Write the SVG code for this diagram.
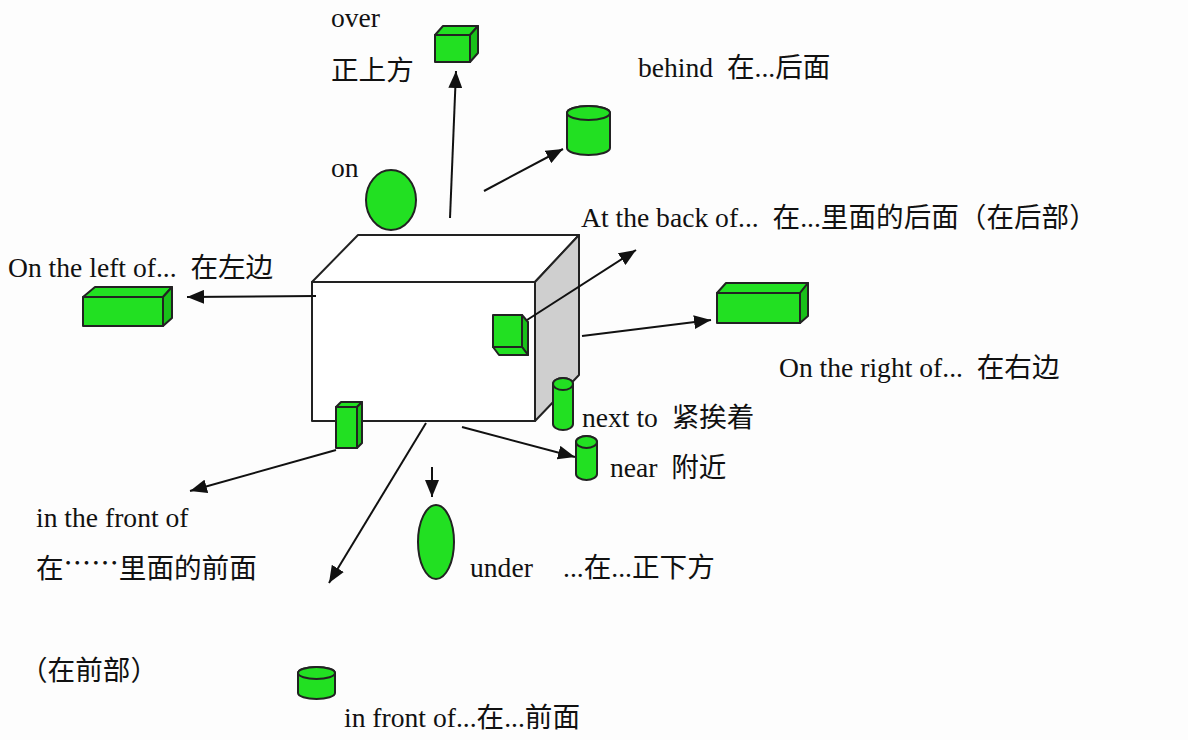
<svg xmlns="http://www.w3.org/2000/svg" width="1188" height="740" viewBox="0 0 1188 740">
<style>
.t{font-family:"Liberation Serif","Noto Sans CJK SC",serif;font-size:27.6px;fill:#111;white-space:pre}
.c{font-family:"Noto Sans CJK SC",sans-serif;font-size:27.6px;fill:#111}
.g{fill:#22e022;stroke:#222;stroke-width:2;stroke-linejoin:round}
.gs{fill:#19c019;stroke:#222;stroke-width:2;stroke-linejoin:round}
.box{fill:#fff;stroke:#222;stroke-width:2;stroke-linejoin:round}
.side{fill:#cfcfcf;stroke:#222;stroke-width:2;stroke-linejoin:round}
.ln{stroke:#111;stroke-width:2;fill:none;marker-end:url(#ah)}
</style>
<defs>
<marker id="ah" markerUnits="userSpaceOnUse" markerWidth="18" markerHeight="14" refX="17" refY="7" orient="auto">
<path d="M0,0 L17,7 L0,14 z" fill="#111"/>
</marker>
</defs>
<rect width="1188" height="740" fill="#fdfdfd"/>

<g id="mainbox">
<polygon class="box" points="312,282 358,235 579,235 535,282"/>
<polygon class="side" points="535,282 579,235 579,375 535,421"/>
<rect class="box" x="312" y="282" width="223" height="139"/>
</g>

<g id="connectors">
<line class="ln" x1="450" y1="218" x2="456" y2="71"/>
<line class="ln" x1="484" y1="191" x2="563" y2="149"/>
<line class="ln" x1="316" y1="296" x2="187" y2="297"/>
<line class="ln" x1="527" y1="320" x2="636" y2="250"/>
<line class="ln" x1="582" y1="336" x2="711" y2="320"/>
<line class="ln" x1="462" y1="427" x2="575" y2="457"/>
<line class="ln" x1="336" y1="450" x2="190" y2="491"/>
<line class="ln" x1="426" y1="423" x2="329" y2="583"/>
<line class="ln" x1="432" y1="467" x2="432" y2="497"/>
</g>

<g id="over">
<polygon class="g" points="435,35 443,26 478,26 470,35"/>
<polygon class="gs" points="470,35 478,26 478,53 470,62"/>
<rect class="g" x="435" y="35" width="35" height="27"/>
<text class="t" x="331" y="27">over</text>
<text class="c" x="331" y="80">正上方</text>
</g>

<g id="behind">
<path class="g" d="M567,113 V148 A21.5,7 0 0 0 610,148 V113 A21.5,7 0 0 0 567,113 z"/>
<ellipse class="g" cx="588.5" cy="113" rx="21.5" ry="7"/>
<text class="t" x="638" y="77">behind  在...后面</text>
</g>

<g id="on">
<ellipse class="g" cx="391" cy="200" rx="25" ry="30"/>
<text class="t" x="331" y="177">on</text>
</g>

<g id="back">
<polygon class="gs" points="522,315 528,322 528,355 522,347"/>
<polygon class="g" points="493,347 522,347 528,355 499,355"/>
<rect class="g" x="493" y="315" width="29" height="32"/>
<text class="t" x="581" y="227">At the back of...  在...里面的后面（在后部）</text>
</g>

<g id="left">
<polygon class="g" points="83,297 95,287 172,287 163,297"/>
<polygon class="gs" points="163,297 172,287 172,318 163,326"/>
<rect class="g" x="83" y="297" width="80" height="29"/>
<text class="t" x="8" y="277">On the left of...  在左边</text>
</g>

<g id="right">
<polygon class="g" points="717,293 726,283 808,283 800,293"/>
<polygon class="gs" points="800,293 808,283 808,316 800,323"/>
<rect class="g" x="717" y="293" width="83" height="30"/>
<text class="t" x="779" y="377">On the right of...  在右边</text>
</g>

<g id="nextto">
<path class="g" d="M553,384 V424 A10,6 0 0 0 573,424 V384 A10,6 0 0 0 553,384 z"/>
<ellipse class="g" cx="563" cy="384" rx="10" ry="6"/>
<text class="t" x="582" y="427">next to  紧挨着</text>
</g>

<g id="near">
<path class="g" d="M576,442 V474 A10.5,6 0 0 0 597,474 V442 A10.5,6 0 0 0 576,442 z"/>
<ellipse class="g" cx="586.5" cy="442" rx="10.5" ry="6"/>
<text class="t" x="610" y="477">near  附近</text>
</g>

<g id="inthefront">
<polygon class="g" points="336,407 341,402 362,402 357,407"/>
<polygon class="gs" points="357,407 362,402 362,443 357,448"/>
<rect class="g" x="336" y="407" width="21" height="41"/>
<text class="t" x="36" y="527">in the front of</text>
<text class="c" x="36" y="578">在<tspan dy="-5">……</tspan><tspan dy="5">里面的前面</tspan></text>
<text class="c" x="20" y="680">（在前部）</text>
</g>

<g id="under">
<ellipse class="g" cx="436" cy="542" rx="18" ry="37"/>
<text class="t" x="470" y="577">under</text>
<text class="t" x="563" y="577">...在...正下方</text>
</g>

<g id="infront">
<path class="g" d="M298,673 V693 A18.5,6 0 0 0 335,693 V673 A18.5,6 0 0 0 298,673 z"/>
<ellipse class="g" cx="316.5" cy="673" rx="18.5" ry="6"/>
<text class="t" x="344" y="727">in front of...在...前面</text>
</g>
</svg>
